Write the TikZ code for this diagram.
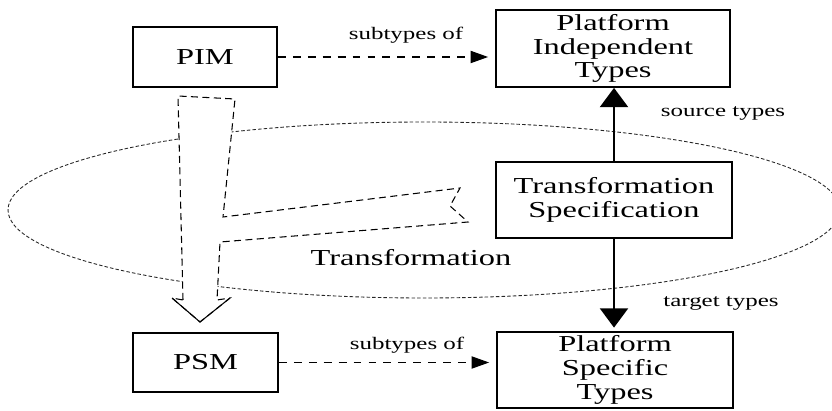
\documentclass[tikz,border=0pt]{standalone}
\usepackage{fontspec}
\setmainfont{Liberation Serif}[FakeStretch=1.42]
\usetikzlibrary{arrows.meta}

\begin{document}
\begin{tikzpicture}[
  box/.style={draw, line width=1pt, align=center, inner sep=0pt, font=\fontsize{13}{13.5}\selectfont},
  note/.style={font=\fontsize{10}{12}\selectfont},
  subtype/.style={line width=0.6pt, dash pattern=on 4.5pt off 4pt, -{Triangle[length=10pt,width=7pt]}, shorten >=4pt},
  typeflow/.style={line width=1.2pt, -{Triangle[length=11pt,width=16pt]}},
  region/.style={line width=0.5pt, black!85, dash pattern=on 2pt off 1.2pt},
  bolt/.style={line width=0.6pt, dash pattern=on 4pt off 2.5pt}
]
\useasboundingbox (0,0) rectangle (16.64,8.2);

\draw[region] (8.48,4.0) ellipse [x radius=8.32, y radius=1.76];

\draw[bolt, fill=white] (3.66,2.20) -- (3.56,6.28) -- (4.70,6.22) -- (4.46,3.86) -- (9.20,4.44)
  -- (9.00,4.08) -- (9.36,3.76) -- (4.40,3.36) -- (4.34,2.20) -- (4.60,2.24)
  -- (4.00,1.76) -- (3.44,2.24) -- cycle;
\draw[line width=0.6pt] (4.60,2.24) -- (4.00,1.76) -- (3.44,2.24);

\node[box, minimum width=2.88cm, minimum height=1.2cm] (pim) at (4.10,7.06) {PIM};
\node[box, minimum width=4.68cm, minimum height=1.54cm] (pit) at (12.26,7.23) {Platform\\Independent\\Types};
\node[box, minimum width=4.72cm, minimum height=1.52cm] (spec) at (12.28,4.20) {Transformation\\Specification};
\node[box, minimum width=2.9cm, minimum height=1.18cm] (psm) at (4.11,0.95) {PSM};
\node[box, minimum width=4.72cm, minimum height=1.52cm] (pst) at (12.30,0.80) {Platform\\Specific\\Types};

\draw[subtype] (pim.east) -- node[note, pos=0.59, above=4pt] (subpim) {subtypes of} (pim.east -| pit.west);
\draw[subtype] (psm.east) -- node[note, pos=0.59, above=1.5pt] (subpsm) {subtypes of} (psm.east -| pst.west);

\draw[typeflow] (spec.north) -- (spec.north |- pit.south);
\draw[typeflow, shorten >=2pt] (spec.south) -- (spec.south |- pst.north);

\node[note] (srclbl) at (14.46,5.94) {source types};
\node[note] (tgtlbl) at (14.42,2.14) {target types};
\node[font=\fontsize{13}{13.5}\selectfont] (trlbl) at (8.22,3.04) {Transformation};
\end{tikzpicture}
\end{document}
